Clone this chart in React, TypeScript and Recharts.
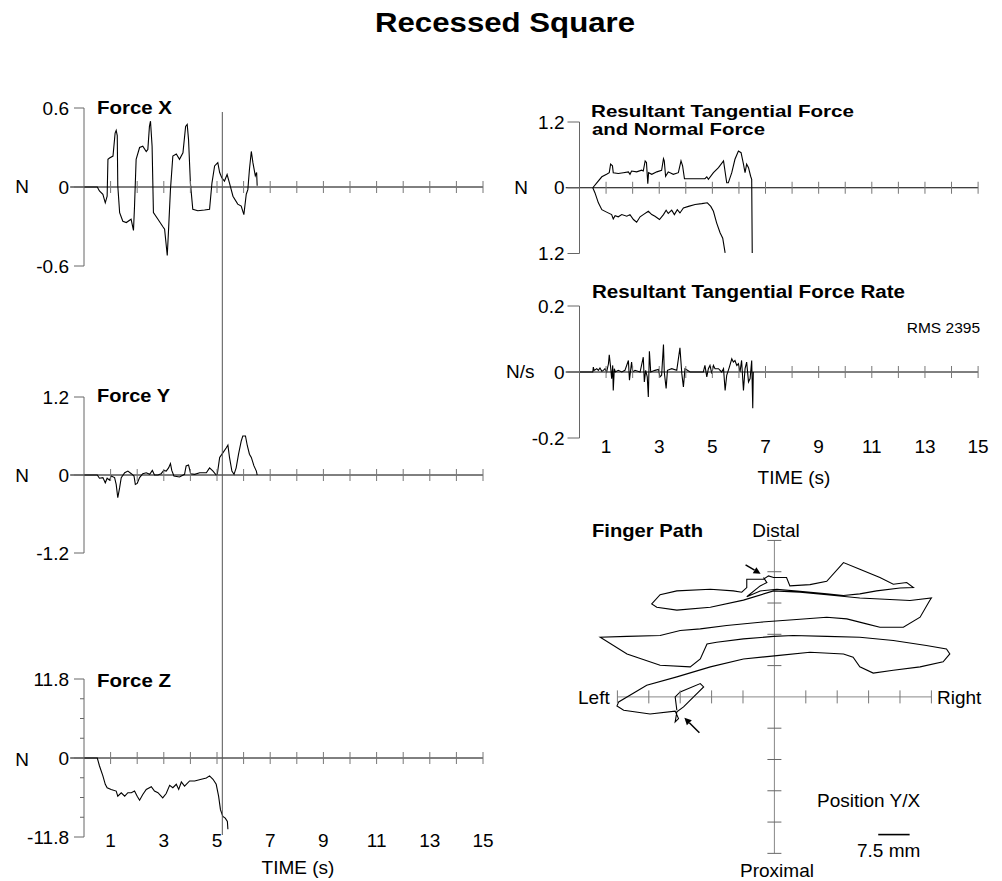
import React from 'react';
import { ComposedChart, Line, XAxis, YAxis, ReferenceLine, Scatter } from 'recharts';

const FONT = '"Liberation Sans", Arial, Helvetica, sans-serif';

// time axis
const TIME_TICKS = [1, 2, 3, 4, 5, 6, 7, 8, 9, 10, 11, 12, 13, 14, 15];
const TIME_LABELS = [1, 3, 5, 7, 9, 11, 13, 15];
const CURSOR_T = 5.2;
const AXIS_START_T = -0.52;

// [time s, force N]
const FORCE_X = [
  [0, 0], [0.5, 0], [0.58, -0.03], [0.71, -0.056], [0.8, -0.12], [0.87, -0.07], [0.9, 0.21], [0.96, 0.22],
  [1.09, 0.235], [1.17, 0.41], [1.21, 0.43], [1.25, 0.39], [1.27, 0.01], [1.34, -0.195], [1.46, -0.26],
  [1.59, -0.27], [1.77, -0.245], [1.86, -0.33], [1.9, -0.145], [1.96, 0.21], [2.09, 0.3], [2.21, 0.31],
  [2.34, 0.27], [2.4, 0.285], [2.46, 0.46], [2.5, 0.5], [2.56, 0.31], [2.61, -0.195], [2.78, -0.245],
  [2.96, -0.3], [3.03, -0.32], [3.13, -0.52], [3.18, -0.32], [3.25, -0.02], [3.34, 0.235], [3.47, 0.25],
  [3.59, 0.21], [3.72, 0.26], [3.82, 0.46], [3.88, 0.475], [3.93, 0.36], [4.0, 0.03], [4.09, -0.17],
  [4.28, -0.18], [4.53, -0.175], [4.72, -0.17], [4.81, 0.03], [4.91, 0.16], [5.03, 0.185], [5.1, 0.11],
  [5.18, 0.07], [5.28, 0.045], [5.38, 0.095], [5.47, 0.03], [5.6, -0.07], [5.78, -0.13], [5.91, -0.145],
  [6.01, -0.21], [6.1, -0.055], [6.16, -0.02], [6.22, 0.135], [6.29, 0.27], [6.35, 0.185], [6.44, 0.085],
  [6.49, 0.11], [6.51, 0.01],
];

const FORCE_Y = [
  [0, 0], [0.5, 0], [0.58, -0.05], [0.71, -0.04], [0.8, -0.12], [0.87, -0.05], [0.96, -0.08], [1.02, -0.015],
  [1.15, -0.04], [1.21, -0.145], [1.27, -0.35], [1.34, -0.195], [1.4, -0.04], [1.53, 0.035], [1.65, 0.06],
  [1.78, 0.02], [1.88, -0.015], [1.93, -0.145], [2.0, -0.13], [2.09, -0.04], [2.21, 0.02], [2.34, 0.035],
  [2.47, 0.01], [2.57, 0.07], [2.65, 0], [2.78, 0], [2.9, 0.02], [3.0, 0.07], [3.09, 0.06], [3.18, 0.11],
  [3.25, 0.175], [3.3, 0.07], [3.38, -0.015], [3.59, -0.03], [3.78, 0.01], [3.84, 0.14], [3.93, 0.155],
  [4.01, 0.02], [4.16, 0.01], [4.35, 0.035], [4.6, 0.035], [4.72, 0.11], [4.85, 0.06], [4.97, 0], [5.01, 0.01],
  [5.1, 0.27], [5.22, 0.34], [5.35, 0.42], [5.41, 0.46], [5.47, 0.27], [5.56, 0.06], [5.64, 0.01], [5.72, 0.11],
  [5.81, 0.32], [5.91, 0.52], [5.97, 0.6], [6.07, 0.6], [6.14, 0.45], [6.22, 0.32], [6.29, 0.27], [6.39, 0.14],
  [6.48, 0.06], [6.51, 0],
];

const FORCE_Z = [
  [0, 0], [0.5, 0], [0.58, -1.16], [0.71, -2.67], [0.8, -3.93], [0.87, -4.44], [1.02, -4.69], [1.21, -4.94],
  [1.27, -5.7], [1.4, -5.19], [1.53, -5.7], [1.65, -5.19], [1.78, -5.19], [1.9, -4.94], [2.0, -5.7],
  [2.09, -6.3], [2.21, -5.45], [2.34, -4.69], [2.53, -4.29], [2.65, -4.94], [2.78, -5.19], [2.96, -5.95],
  [3.09, -5.3], [3.22, -4.08], [3.34, -4.44], [3.47, -3.93], [3.56, -4.69], [3.66, -3.58], [3.78, -4.19],
  [3.97, -3.43], [4.16, -3.43], [4.41, -3.18], [4.6, -2.98], [4.72, -2.67], [4.85, -3.18], [4.97, -3.93],
  [5.06, -5.7], [5.13, -7.72], [5.22, -8.72], [5.31, -8.98], [5.39, -9.48], [5.41, -10.64],
];
const FORCE_Z_MINOR = [-8.85, -5.9, -2.95, 2.95, 5.9, 8.85];

const TANGENTIAL = [
  [0.5, 0], [0.65, 0.09], [0.84, 0.2], [1.02, 0.245], [1.12, 0.275], [1.17, 0.43], [1.24, 0.4], [1.27, 0.275],
  [1.46, 0.26], [1.65, 0.275], [1.84, 0.29], [1.9, 0.245], [1.96, 0.305], [2.15, 0.29], [2.34, 0.32],
  [2.4, 0.305], [2.47, 0.49], [2.52, 0.46], [2.57, 0.073], [2.6, 0.275], [2.72, 0.245], [2.91, 0.29],
  [3.09, 0.32], [3.16, 0.53], [3.19, 0.49], [3.24, 0.21], [3.34, 0.29], [3.53, 0.245], [3.72, 0.275],
  [3.82, 0.49], [3.88, 0.4], [3.95, 0.165], [4.16, 0.165], [4.41, 0.165], [4.72, 0.165], [4.79, 0.2],
  [4.85, 0.153], [5.04, 0.275], [5.23, 0.366], [5.42, 0.49], [5.54, 0.09], [5.6, 0.09], [5.73, 0.275],
  [5.85, 0.52], [5.98, 0.67], [6.08, 0.64], [6.17, 0.43], [6.23, 0.275], [6.29, 0.43], [6.36, 0.366],
  [6.44, 0.21], [6.48, 0.153], [6.5, -1.19],
];

// normal force drawn downward
const NORMAL = [
  [0.5, 0], [0.58, -0.09], [0.71, -0.275], [0.84, -0.4], [1.02, -0.445], [1.21, -0.49], [1.27, -0.57],
  [1.34, -0.51], [1.46, -0.53], [1.59, -0.49], [1.78, -0.52], [1.9, -0.49], [2.03, -0.58], [2.15, -0.63],
  [2.28, -0.53], [2.4, -0.49], [2.59, -0.43], [2.72, -0.49], [2.84, -0.52], [3.01, -0.58], [3.16, -0.49],
  [3.26, -0.41], [3.34, -0.47], [3.47, -0.41], [3.57, -0.49], [3.68, -0.4], [3.78, -0.46], [3.91, -0.37],
  [4.1, -0.34], [4.35, -0.305], [4.6, -0.29], [4.81, -0.275], [4.94, -0.34], [5.04, -0.43], [5.16, -0.64],
  [5.29, -0.82], [5.39, -0.92], [5.44, -1.07], [5.48, -1.19],
];

const FORCE_RATE = [
  [0, 0], [0.5, 0], [0.52, 0.015], [0.55, 0.005], [0.65, 0.01], [0.71, 0.005], [0.77, 0.012], [0.84, 0.002],
  [0.9, 0.005], [0.96, 0.01], [1.02, 0], [1.09, 0.025], [1.12, 0.052], [1.17, 0.015], [1.21, -0.02],
  [1.25, 0.02], [1.27, -0.056], [1.31, 0.01], [1.35, 0], [1.46, 0.005], [1.59, 0], [1.71, 0.005],
  [1.84, 0.035], [1.88, -0.025], [1.93, 0.01], [1.96, 0.03], [2.0, 0], [2.09, 0.005], [2.28, 0],
  [2.4, 0.045], [2.44, -0.03], [2.49, 0.005], [2.55, -0.015], [2.59, -0.076], [2.63, 0.063], [2.68, 0],
  [2.84, 0.005], [2.97, 0.008], [3.03, -0.015], [3.09, -0.01], [3.16, 0.083], [3.19, 0], [3.26, -0.05],
  [3.31, 0.005], [3.47, 0.01], [3.66, 0.005], [3.78, 0.073], [3.85, -0.005], [3.91, -0.045], [3.97, 0.01],
  [4.16, 0], [4.41, 0], [4.66, 0], [4.72, 0.02], [4.79, -0.015], [4.85, 0.01], [4.91, 0.02], [4.98, -0.005],
  [5.04, 0.02], [5.1, 0.01], [5.23, 0.01], [5.35, 0], [5.42, 0.01], [5.48, -0.056], [5.54, -0.01],
  [5.64, 0.015], [5.73, 0.04], [5.79, 0.03], [5.85, 0.035], [5.92, 0.02], [5.98, 0.025], [6.04, 0],
  [6.1, 0.035], [6.17, -0.056], [6.23, 0.01], [6.29, 0.03], [6.36, -0.03], [6.42, -0.02], [6.48, 0.035],
  [6.52, -0.11], [6.54, 0],
];

// finger path, mm (x = left/right, y = proximal/distal)
const FINGER_PATH = [
  [-23.3, -3.2], [-23.7, 0], [-22.5, 1.2], [-17.7, 3.2], [-16.9, 2.4], [-19.3, 0], [-21.7, -2.4],
  [-23.3, -3.6], [-23.7, -6.0], [-22.9, -5.2], [-23.7, -3.4], [-29.7, -4.1], [-36.0, -3.2], [-37.6, -2.2],
  [-37.2, -1.2], [-30.5, 2.8], [-23.3, 4.8], [-15.3, 7.2], [-7.4, 9.1], [0.6, 9.9], [8.5, 10.7], [16.5, 10.3],
  [18.8, 9.5], [20.4, 7.2], [23.6, 5.7], [28.4, 6.4], [34.8, 7.2], [40.3, 8.4], [41.9, 10.3], [41.1, 11.5],
  [36.3, 12.3], [28.4, 13.5], [20.4, 14.3], [12.5, 14.5], [4.5, 14.7], [-0.2, 14.5], [-7.4, 13.9],
  [-13.8, 13.1], [-16.1, 12.7], [-17.7, 9.1], [-20.1, 7.2], [-27.3, 7.6], [-35.2, 10.3], [-41.6, 14.3],
  [-35.2, 14.5], [-27.3, 14.7], [-22.5, 15.9], [-17.7, 16.3], [-11.4, 17.1], [-3.4, 17.9], [4.5, 18.5],
  [12.5, 19.1], [17.3, 18.7], [22.0, 17.5], [25.2, 16.7], [30.8, 16.7], [34.8, 19.1], [37.1, 23.1],
  [37.5, 23.7], [32.4, 23.1], [20.4, 23.7], [12.5, 24.5], [6.1, 25.1], [-0.2, 25.4], [-7.4, 23.2],
  [-15.3, 21.5], [-23.3, 20.8], [-28.1, 21.5], [-29.3, 22.3], [-27.3, 24.5], [-23.3, 25.4], [-15.3, 25.8],
  [-9.8, 25.4], [-7.8, 25.1], [-6.6, 26.2], [-6.6, 28.2], [-2.6, 28.2], [-1.4, 29.0], [-0.2, 28.6],
  [2.9, 28.6], [3.7, 26.6], [8.5, 26.9], [12.5, 27.7], [16.5, 32.2], [20.4, 30.6], [25.2, 28.6],
  [28.4, 27.0], [31.6, 27.4], [33.2, 26.2], [30.0, 26.1], [24.4, 25.4], [20.4, 24.7], [16.5, 24.3],
  [12.5, 24.7], [6.1, 25.3], [0.6, 25.8], [-3.4, 25.4], [-6.6, 24.0], [-3.4, 26.6], [-1.8, 27.4], [-2.6, 28.6],
];
const FP_TICKS = [-37.5, -30, -22.5, -15, -7.5, 7.5, 15, 22.5, 30, 37.5];
const FP_AXIS_MM = 37.5;
const SCALE_BAR_MM = 7.5;
const SCALE_BAR_AT = { x: 24.8, y: -33 };
const ARROWS = [
  { x: -3.3, y: 29.5, tail: [-15, -9] },
  { x: -21.5, y: -5.0, tail: [15, 15] },
];

const toPts = (arr: number[][]) => arr.map(([t, v]) => ({ t, v }));

const LEFT_COL = { x: 0, width: 494, yAxisWidth: 84, plotW: 399, tickSize: 10, tickMargin: 5 };
const RIGHT_COL = { x: 490, width: 500, yAxisWidth: 89.5, plotW: 398.6, tickSize: 12, tickMargin: 3 };

const TimeTick = (p: any) => (
  <line x1={p.cx} x2={p.cx} y1={p.cy - 6} y2={p.cy + 6} stroke="#777" strokeWidth={1} />
);
const MinorTick = (p: any) => (
  <line x1={p.cx - 4} x2={p.cx} y1={p.cy} y2={p.cy} stroke="#666" strokeWidth={1} />
);
const VTick = (p: any) => (
  <line x1={p.cx} x2={p.cx} y1={p.cy - 6.5} y2={p.cy + 6.5} stroke="#777" strokeWidth={1} />
);
const HTick = (p: any) => (
  <line x1={p.cx - 7} x2={p.cx + 7} y1={p.cy} y2={p.cy} stroke="#666" strokeWidth={1} />
);
const Arrow = (p: any) => {
  const [tx, ty] = p.payload.tail;
  const len = Math.hypot(tx, ty);
  const ux = -tx / len;
  const uy = -ty / len;
  const bx = p.cx - ux * 7;
  const by = p.cy - uy * 7;
  return (
    <g>
      <line x1={p.cx + tx} y1={p.cy + ty} x2={bx} y2={by} stroke="#000" strokeWidth={1.5} />
      <polygon
        points={`${p.cx},${p.cy} ${bx - uy * 3.5},${by + ux * 3.5} ${bx + uy * 3.5},${by - ux * 3.5}`}
        fill="#000"
      />
    </g>
  );
};

interface PanelProps {
  col: typeof LEFT_COL;
  plotTop: number;
  plotH: number;
  domain: [number, number];
  ticks: number[];
  format?: (v: number) => string;
  series: number[][][];
  minor?: number[];
  labelDy?: number;
}

function TimePanel({ col, plotTop, plotH, domain, ticks, format, series, minor, labelDy }: PanelProps) {
  const showTime = labelDy !== undefined;
  const axisH = 30;
  const height = 8 + plotH + (showTime ? axisH : 8);
  return (
    <div style={{ position: 'absolute', left: col.x, top: plotTop - 8 }}>
      <ComposedChart
        width={col.width}
        height={height}
        margin={{ top: 8, right: col.width - col.yAxisWidth - col.plotW, bottom: showTime ? 0 : 8, left: 0 }}
      >
        <XAxis
          type="number"
          dataKey="t"
          domain={[0, 15]}
          ticks={TIME_LABELS}
          interval={0}
          hide={!showTime}
          height={axisH}
          axisLine={false}
          tickLine={false}
          tickSize={0}
          tickMargin={0}
          tick={(p: any) => (
            <text x={p.x} y={p.y + (labelDy ?? 0)} textAnchor="middle" fontSize={19} fill="#000">
              {p.payload.value}
            </text>
          )}
        />
        <YAxis
          type="number"
          domain={domain}
          ticks={ticks}
          interval={0}
          width={col.yAxisWidth}
          tickSize={col.tickSize}
          tickMargin={col.tickMargin}
          stroke="#666"
          tickFormatter={format}
          tick={{ fill: '#000', fontSize: 19 }}
        />
        <ReferenceLine
          segment={[{ x: AXIS_START_T, y: 0 }, { x: 15, y: 0 }]}
          stroke="#000"
          ifOverflow="visible"
        />
        <Scatter
          data={TIME_TICKS.map((t) => ({ t, v: 0 }))}
          dataKey="v"
          shape={TimeTick}
          isAnimationActive={false}
        />
        {minor && (
          <Scatter data={minor.map((v) => ({ t: 0, v }))} dataKey="v" shape={MinorTick} isAnimationActive={false} />
        )}
        {series.map((d, i) => (
          <Line
            key={i}
            data={toPts(d)}
            dataKey="v"
            type="linear"
            dot={false}
            stroke="#000"
            strokeWidth={1.1}
            isAnimationActive={false}
          />
        ))}
      </ComposedChart>
    </div>
  );
}

function FingerPath() {
  const pts = FINGER_PATH.map(([x, y]) => ({ x, y }));
  return (
    <div style={{ position: 'absolute', left: 585.6, top: 530.1 }}>
      <ComposedChart width={376.8} height={333.8} margin={{ top: 0, right: 0, bottom: 0, left: 0 }}>
        <XAxis type="number" dataKey="x" domain={[-45, 45]} hide />
        <YAxis type="number" domain={[-40, 40]} hide />
        <ReferenceLine segment={[{ x: -FP_AXIS_MM, y: 0 }, { x: FP_AXIS_MM, y: 0 }]} stroke="#888" />
        <ReferenceLine segment={[{ x: 0, y: -FP_AXIS_MM }, { x: 0, y: FP_AXIS_MM }]} stroke="#888" />
        <Scatter data={FP_TICKS.map((x) => ({ x, y: 0 }))} dataKey="y" shape={VTick} isAnimationActive={false} />
        <Scatter data={FP_TICKS.map((y) => ({ x: 0, y }))} dataKey="y" shape={HTick} isAnimationActive={false} />
        <Line
          data={pts}
          dataKey="y"
          type="linear"
          dot={false}
          stroke="#000"
          strokeWidth={1.1}
          isAnimationActive={false}
        />
        <ReferenceLine
          segment={[SCALE_BAR_AT, { x: SCALE_BAR_AT.x + SCALE_BAR_MM, y: SCALE_BAR_AT.y }]}
          stroke="#000"
          strokeWidth={1.6}
        />
        <Scatter data={ARROWS} dataKey="y" shape={Arrow} isAnimationActive={false} />
      </ComposedChart>
    </div>
  );
}

function Cursor() {
  // vertical time marker through the three left panels
  const marker = [
    { t: CURSOR_T, v: 0 },
    { t: CURSOR_T, v: 1 },
  ];
  return (
    <div style={{ position: 'absolute', left: LEFT_COL.x, top: 112, pointerEvents: 'none' }}>
      <ComposedChart
        width={LEFT_COL.width}
        height={723}
        data={marker}
        margin={{ top: 0, right: LEFT_COL.width - LEFT_COL.yAxisWidth - LEFT_COL.plotW, bottom: 0, left: LEFT_COL.yAxisWidth }}
      >
        <XAxis type="number" dataKey="t" domain={[0, 15]} hide />
        <YAxis type="number" domain={[0, 1]} hide />
        <Line dataKey="v" stroke="#555" strokeWidth={1} dot={false} isAnimationActive={false} />
      </ComposedChart>
    </div>
  );
}

export default function App() {
  const abs = (v: number) => String(Math.abs(v));
  return (
    <div style={{ position: 'relative', width: 1002, height: 881, background: '#fff', fontFamily: FONT }}>
      <style>{`body{margin:0} .recharts-surface{overflow:visible}`}</style>

      <TimePanel col={LEFT_COL} plotTop={108} plotH={158} domain={[-0.6, 0.6]} ticks={[-0.6, 0, 0.6]} series={[FORCE_X]} />
      <TimePanel col={LEFT_COL} plotTop={397} plotH={156} domain={[-1.2, 1.2]} ticks={[-1.2, 0, 1.2]} series={[FORCE_Y]} />
      <TimePanel
        col={LEFT_COL}
        plotTop={679}
        plotH={158}
        domain={[-11.8, 11.8]}
        ticks={[-11.8, 0, 11.8]}
        series={[FORCE_Z]}
        minor={FORCE_Z_MINOR}
        labelDy={10}
      />
      <Cursor />

      <TimePanel
        col={RIGHT_COL}
        plotTop={122}
        plotH={131.5}
        domain={[-1.2, 1.2]}
        ticks={[-1.2, 0, 1.2]}
        format={abs}
        series={[TANGENTIAL, NORMAL]}
      />
      <TimePanel
        col={RIGHT_COL}
        plotTop={306}
        plotH={132}
        domain={[-0.2, 0.2]}
        ticks={[-0.2, 0, 0.2]}
        series={[FORCE_RATE]}
        labelDy={15}
      />
      <FingerPath />

      <svg
        width={1002}
        height={881}
        style={{ position: 'absolute', left: 0, top: 0, pointerEvents: 'none' }}
        fontFamily={FONT}
      >
        <text x={375} y={32} fontSize={28} fontWeight="bold" textLength={260} lengthAdjust="spacingAndGlyphs">
          Recessed Square
        </text>

        <text x={97} y={114} fontSize={18} fontWeight="bold" textLength={75} lengthAdjust="spacingAndGlyphs">Force X</text>
        <text x={97} y={401.5} fontSize={18} fontWeight="bold" textLength={73} lengthAdjust="spacingAndGlyphs">Force Y</text>
        <text x={97} y={686.5} fontSize={18} fontWeight="bold" textLength={74} lengthAdjust="spacingAndGlyphs">Force Z</text>
        <text x={22} y={193} fontSize={19} textAnchor="middle">N</text>
        <text x={22} y={481.5} fontSize={19} textAnchor="middle">N</text>
        <text x={22} y={766} fontSize={19} textAnchor="middle">N</text>
        <text x={298} y={874} fontSize={19} textAnchor="middle">TIME (s)</text>

        <text x={591} y={117} fontSize={16.5} fontWeight="bold" textLength={263} lengthAdjust="spacingAndGlyphs">
          Resultant Tangential Force
        </text>
        <text x={592} y={135} fontSize={16.5} fontWeight="bold" textLength={173} lengthAdjust="spacingAndGlyphs">
          and Normal Force
        </text>
        <text x={521} y={194} fontSize={19} textAnchor="middle">N</text>

        <text x={592} y={298} fontSize={18} fontWeight="bold" textLength={313} lengthAdjust="spacingAndGlyphs">
          Resultant Tangential Force Rate
        </text>
        <text x={980} y={333} fontSize={15.5} textAnchor="end">RMS 2395</text>
        <text x={506} y={378} fontSize={19}>N/s</text>
        <text x={794} y={483.5} fontSize={19} textAnchor="middle">TIME (s)</text>

        <text x={592} y={537} fontSize={19} fontWeight="bold" textLength={111} lengthAdjust="spacingAndGlyphs">
          Finger Path
        </text>
        <text x={776} y={537} fontSize={19} textAnchor="middle">Distal</text>
        <text x={777} y={877} fontSize={19} textAnchor="middle">Proximal</text>
        <text x={578} y={704} fontSize={19}>Left</text>
        <text x={937} y={704} fontSize={19}>Right</text>
        <text x={817} y={807} fontSize={19}>Position Y/X</text>
        <text x={857} y={857} fontSize={19}>7.5 mm</text>
      </svg>
    </div>
  );
}
